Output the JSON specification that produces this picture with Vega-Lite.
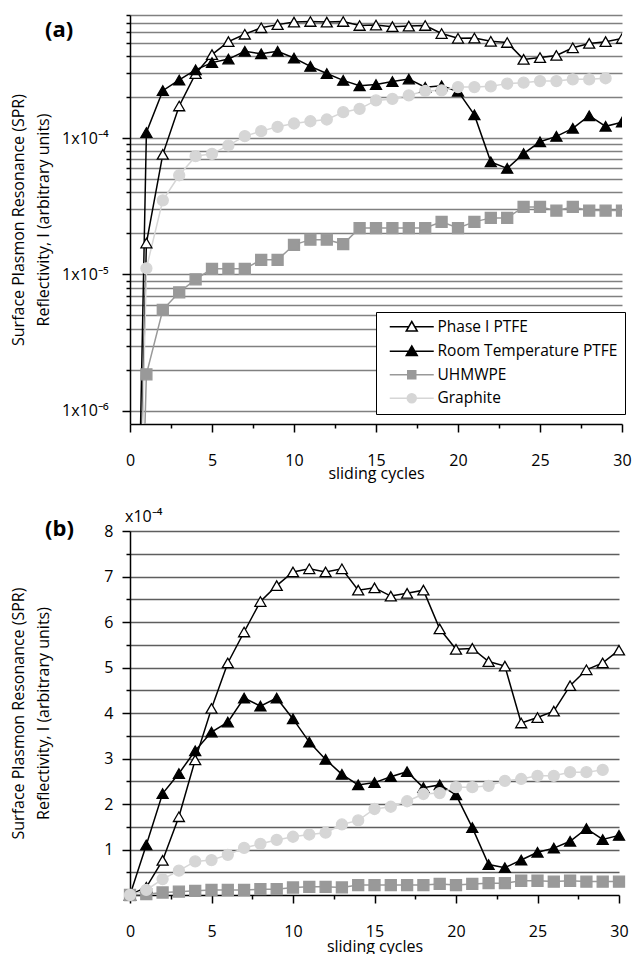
{
  "$schema": "https://vega.github.io/schema/vega-lite/v6.json",
  "padding": {"left": 9, "top": 7, "right": 5, "bottom": 0},
  "background": "white",
  "spacing": 28,
  "config": {
    "font": "Open Sans",
    "view": {"stroke": null},
    "axis": {"labelFont": "Open Sans", "titleFont": "Open Sans", "labelColor": "black", "titleColor": "black", "labelFontSize": 16, "titleFontSize": 16, "titleFontWeight": "normal", "domainColor": "black", "tickColor": "black", "domainWidth": 1.5, "tickWidth": 1.5, "labelOverlap": false, "labelFlush": false}
  },
  "resolve": {
    "scale": {"fill": "independent", "stroke": "independent", "shape": "independent", "size": "independent"},
    "legend": {"fill": "independent", "stroke": "independent", "shape": "independent", "size": "independent"}
  },
  "datasets": {
    "spr": [
      {"series": "Phase I PTFE", "cycle": 0, "I": 0.000001},
      {"series": "Phase I PTFE", "cycle": 1, "I": 0.17},
      {"series": "Phase I PTFE", "cycle": 2, "I": 0.76},
      {"series": "Phase I PTFE", "cycle": 3, "I": 1.72},
      {"series": "Phase I PTFE", "cycle": 4, "I": 2.97},
      {"series": "Phase I PTFE", "cycle": 5, "I": 4.1},
      {"series": "Phase I PTFE", "cycle": 6, "I": 5.1},
      {"series": "Phase I PTFE", "cycle": 7, "I": 5.78},
      {"series": "Phase I PTFE", "cycle": 8, "I": 6.45},
      {"series": "Phase I PTFE", "cycle": 9, "I": 6.8},
      {"series": "Phase I PTFE", "cycle": 10, "I": 7.1},
      {"series": "Phase I PTFE", "cycle": 11, "I": 7.17},
      {"series": "Phase I PTFE", "cycle": 12, "I": 7.1},
      {"series": "Phase I PTFE", "cycle": 13, "I": 7.17},
      {"series": "Phase I PTFE", "cycle": 14, "I": 6.7},
      {"series": "Phase I PTFE", "cycle": 15, "I": 6.75},
      {"series": "Phase I PTFE", "cycle": 16, "I": 6.57},
      {"series": "Phase I PTFE", "cycle": 17, "I": 6.63},
      {"series": "Phase I PTFE", "cycle": 18, "I": 6.7},
      {"series": "Phase I PTFE", "cycle": 19, "I": 5.85},
      {"series": "Phase I PTFE", "cycle": 20, "I": 5.4},
      {"series": "Phase I PTFE", "cycle": 21, "I": 5.42},
      {"series": "Phase I PTFE", "cycle": 22, "I": 5.13},
      {"series": "Phase I PTFE", "cycle": 23, "I": 5.03},
      {"series": "Phase I PTFE", "cycle": 24, "I": 3.78},
      {"series": "Phase I PTFE", "cycle": 25, "I": 3.9},
      {"series": "Phase I PTFE", "cycle": 26, "I": 4.04},
      {"series": "Phase I PTFE", "cycle": 27, "I": 4.6},
      {"series": "Phase I PTFE", "cycle": 28, "I": 4.95},
      {"series": "Phase I PTFE", "cycle": 29, "I": 5.1},
      {"series": "Phase I PTFE", "cycle": 30, "I": 5.38},
      {"series": "Room Temperature PTFE", "cycle": 0, "I": 0.000001},
      {"series": "Room Temperature PTFE", "cycle": 1, "I": 1.1},
      {"series": "Room Temperature PTFE", "cycle": 2, "I": 2.23},
      {"series": "Room Temperature PTFE", "cycle": 3, "I": 2.67},
      {"series": "Room Temperature PTFE", "cycle": 4, "I": 3.17},
      {"series": "Room Temperature PTFE", "cycle": 5, "I": 3.58},
      {"series": "Room Temperature PTFE", "cycle": 6, "I": 3.8},
      {"series": "Room Temperature PTFE", "cycle": 7, "I": 4.33},
      {"series": "Room Temperature PTFE", "cycle": 8, "I": 4.15},
      {"series": "Room Temperature PTFE", "cycle": 9, "I": 4.33},
      {"series": "Room Temperature PTFE", "cycle": 10, "I": 3.87},
      {"series": "Room Temperature PTFE", "cycle": 11, "I": 3.36},
      {"series": "Room Temperature PTFE", "cycle": 12, "I": 2.98},
      {"series": "Room Temperature PTFE", "cycle": 13, "I": 2.65},
      {"series": "Room Temperature PTFE", "cycle": 14, "I": 2.42},
      {"series": "Room Temperature PTFE", "cycle": 15, "I": 2.47},
      {"series": "Room Temperature PTFE", "cycle": 16, "I": 2.6},
      {"series": "Room Temperature PTFE", "cycle": 17, "I": 2.71},
      {"series": "Room Temperature PTFE", "cycle": 18, "I": 2.36},
      {"series": "Room Temperature PTFE", "cycle": 19, "I": 2.42},
      {"series": "Room Temperature PTFE", "cycle": 20, "I": 2.2},
      {"series": "Room Temperature PTFE", "cycle": 21, "I": 1.48},
      {"series": "Room Temperature PTFE", "cycle": 22, "I": 0.67},
      {"series": "Room Temperature PTFE", "cycle": 23, "I": 0.6},
      {"series": "Room Temperature PTFE", "cycle": 24, "I": 0.77},
      {"series": "Room Temperature PTFE", "cycle": 25, "I": 0.94},
      {"series": "Room Temperature PTFE", "cycle": 26, "I": 1.03},
      {"series": "Room Temperature PTFE", "cycle": 27, "I": 1.18},
      {"series": "Room Temperature PTFE", "cycle": 28, "I": 1.46},
      {"series": "Room Temperature PTFE", "cycle": 29, "I": 1.22},
      {"series": "Room Temperature PTFE", "cycle": 30, "I": 1.31},
      {"series": "UHMWPE", "cycle": 0, "I": 0.000001},
      {"series": "UHMWPE", "cycle": 1, "I": 0.0185},
      {"series": "UHMWPE", "cycle": 2, "I": 0.055},
      {"series": "UHMWPE", "cycle": 3, "I": 0.074},
      {"series": "UHMWPE", "cycle": 4, "I": 0.092},
      {"series": "UHMWPE", "cycle": 5, "I": 0.11},
      {"series": "UHMWPE", "cycle": 6, "I": 0.11},
      {"series": "UHMWPE", "cycle": 7, "I": 0.11},
      {"series": "UHMWPE", "cycle": 8, "I": 0.128},
      {"series": "UHMWPE", "cycle": 9, "I": 0.128},
      {"series": "UHMWPE", "cycle": 10, "I": 0.165},
      {"series": "UHMWPE", "cycle": 11, "I": 0.18},
      {"series": "UHMWPE", "cycle": 12, "I": 0.18},
      {"series": "UHMWPE", "cycle": 13, "I": 0.167},
      {"series": "UHMWPE", "cycle": 14, "I": 0.219},
      {"series": "UHMWPE", "cycle": 15, "I": 0.219},
      {"series": "UHMWPE", "cycle": 16, "I": 0.219},
      {"series": "UHMWPE", "cycle": 17, "I": 0.219},
      {"series": "UHMWPE", "cycle": 18, "I": 0.219},
      {"series": "UHMWPE", "cycle": 19, "I": 0.243},
      {"series": "UHMWPE", "cycle": 20, "I": 0.219},
      {"series": "UHMWPE", "cycle": 21, "I": 0.243},
      {"series": "UHMWPE", "cycle": 22, "I": 0.26},
      {"series": "UHMWPE", "cycle": 23, "I": 0.26},
      {"series": "UHMWPE", "cycle": 24, "I": 0.313},
      {"series": "UHMWPE", "cycle": 25, "I": 0.313},
      {"series": "UHMWPE", "cycle": 26, "I": 0.294},
      {"series": "UHMWPE", "cycle": 27, "I": 0.313},
      {"series": "UHMWPE", "cycle": 28, "I": 0.294},
      {"series": "UHMWPE", "cycle": 29, "I": 0.294},
      {"series": "UHMWPE", "cycle": 30, "I": 0.294},
      {"series": "Graphite", "cycle": 0, "I": 0.000001},
      {"series": "Graphite", "cycle": 1, "I": 0.111},
      {"series": "Graphite", "cycle": 2, "I": 0.35},
      {"series": "Graphite", "cycle": 3, "I": 0.534},
      {"series": "Graphite", "cycle": 4, "I": 0.737},
      {"series": "Graphite", "cycle": 5, "I": 0.767},
      {"series": "Graphite", "cycle": 6, "I": 0.884},
      {"series": "Graphite", "cycle": 7, "I": 1.035},
      {"series": "Graphite", "cycle": 8, "I": 1.125},
      {"series": "Graphite", "cycle": 9, "I": 1.21},
      {"series": "Graphite", "cycle": 10, "I": 1.28},
      {"series": "Graphite", "cycle": 11, "I": 1.33},
      {"series": "Graphite", "cycle": 12, "I": 1.37},
      {"series": "Graphite", "cycle": 13, "I": 1.55},
      {"series": "Graphite", "cycle": 14, "I": 1.64},
      {"series": "Graphite", "cycle": 15, "I": 1.89},
      {"series": "Graphite", "cycle": 16, "I": 1.94},
      {"series": "Graphite", "cycle": 17, "I": 2.06},
      {"series": "Graphite", "cycle": 18, "I": 2.22},
      {"series": "Graphite", "cycle": 19, "I": 2.24},
      {"series": "Graphite", "cycle": 20, "I": 2.37},
      {"series": "Graphite", "cycle": 21, "I": 2.37},
      {"series": "Graphite", "cycle": 22, "I": 2.4},
      {"series": "Graphite", "cycle": 23, "I": 2.51},
      {"series": "Graphite", "cycle": 24, "I": 2.55},
      {"series": "Graphite", "cycle": 25, "I": 2.62},
      {"series": "Graphite", "cycle": 26, "I": 2.62},
      {"series": "Graphite", "cycle": 27, "I": 2.7},
      {"series": "Graphite", "cycle": 28, "I": 2.7},
      {"series": "Graphite", "cycle": 29, "I": 2.75}
    ]
  },
  "vconcat": [
    {
      "width": 492,
      "height": 409,
      "data": {"name": "spr"},
      "resolve": {
        "scale": {"fill": "independent", "stroke": "independent", "shape": "independent", "size": "independent"},
        "legend": {"fill": "independent", "stroke": "independent", "shape": "independent", "size": "independent"}
      },
      "encoding": {
        "x": {"field": "cycle", "type": "quantitative", "scale": {"domain": [0, 30]},
          "axis": {"title": "sliding cycles", "values": [0, 2.5, 5, 7.5, 10, 12.5, 15, 17.5, 20, 22.5, 25, 27.5, 30], "labelExpr": "datum.value % 5 === 0 ? datum.label : ''", "grid": false, "tickSize": {"condition": {"test": "datum.value % 5 === 0", "value": 8}, "value": 4}, "labelPadding": 20, "titlePadding": -3}},
        "y": {"field": "I", "type": "quantitative", "scale": {"type": "log", "domain": [0.008, 8]},
          "axis": {"title": ["Surface Plasmon Resonance (SPR)", "Reflectivity, I (arbitrary units)"], "titleLineHeight": 25, "titleX": -112, "titleBaseline": "middle",
            "values": [0.01, 0.02, 0.03, 0.04, 0.05, 0.06, 0.07, 0.08, 0.09, 0.1, 0.2, 0.3, 0.4, 0.5, 0.6, 0.7, 0.8, 0.9, 1, 2, 3, 4, 5, 6, 7, 8],
            "labelExpr": "abs(datum.value-1)<1e-9 ? '1x10⁻⁴' : abs(datum.value-0.1)<1e-9 ? '1x10⁻⁵' : abs(datum.value-0.01)<1e-9 ? '1x10⁻⁶' : ''",
            "grid": true, "gridColor": "#808080", "gridWidth": 1.5,
            "tickSize": {"condition": {"test": "abs(datum.value-1)<1e-9 || abs(datum.value-0.1)<1e-9 || abs(datum.value-0.01)<1e-9", "value": 8}, "value": 4},
            "labelPadding": 14}}
      },
      "layer": [
        {
          "mark": {"type": "line", "strokeWidth": 1.5, "clip": true},
          "encoding": {
            "stroke": {"field": "series", "type": "nominal", "scale": {"domain": ["Phase I PTFE", "Room Temperature PTFE", "UHMWPE", "Graphite"], "range": ["black", "black", "#999999", "#d6d6d6"]}, "legend": null}
          }
        },
        {
          "mark": {"type": "point", "filled": true, "opacity": 1, "strokeWidth": 1.3, "clip": true},
          "encoding": {
            "stroke": {"field": "series", "type": "nominal", "scale": {"domain": ["Phase I PTFE", "Room Temperature PTFE", "UHMWPE", "Graphite"], "range": ["black", "black", "#999999", "#d6d6d6"]}, "legend": null},
            "fill": {"field": "series", "type": "nominal", "scale": {"domain": ["Phase I PTFE", "Room Temperature PTFE", "UHMWPE", "Graphite"], "range": ["white", "black", "#999999", "#d6d6d6"]}, "legend": null},
            "shape": {"field": "series", "type": "nominal", "scale": {"domain": ["Phase I PTFE", "Room Temperature PTFE", "UHMWPE", "Graphite"], "range": ["triangle-up", "triangle-up", "square", "circle"]}, "legend": null},
            "size": {"field": "series", "type": "nominal", "scale": {"domain": ["Phase I PTFE", "Room Temperature PTFE", "UHMWPE", "Graphite"], "range": [121, 121, 64, 100]}, "legend": null}
          }
        },
        {
          "mark": {"type": "point", "filled": true, "opacity": 0, "strokeWidth": 1.5, "clip": true},
          "encoding": {
            "stroke": {"field": "series", "type": "nominal", "scale": {"domain": ["Phase I PTFE", "Room Temperature PTFE", "UHMWPE", "Graphite"], "range": ["black", "black", "#999999", "#d6d6d6"]},
              "legend": {"orient": "none", "legendX": 246, "legendY": 297, "title": null, "strokeColor": "black", "fillColor": "white", "padding": 7, "labelFont": "Open Sans", "labelFontSize": 15.5, "labelColor": "black", "labelLimit": 0, "symbolSize": 100, "symbolStrokeWidth": 1.5, "symbolOpacity": 1, "rowPadding": 6.5, "symbolOffset": 21, "labelOffset": 18}},
            "fill": {"field": "series", "type": "nominal", "scale": {"domain": ["Phase I PTFE", "Room Temperature PTFE", "UHMWPE", "Graphite"], "range": ["white", "black", "#999999", "#d6d6d6"]},
              "legend": {"orient": "none", "legendX": 246, "legendY": 297, "title": null, "strokeColor": "black", "fillColor": "white", "padding": 7, "labelFont": "Open Sans", "labelFontSize": 15.5, "labelColor": "black", "labelLimit": 0, "symbolSize": 100, "symbolStrokeWidth": 1.5, "symbolOpacity": 1, "rowPadding": 6.5, "symbolOffset": 21, "labelOffset": 18}},
            "shape": {"field": "series", "type": "nominal", "scale": {"domain": ["Phase I PTFE", "Room Temperature PTFE", "UHMWPE", "Graphite"], "range": ["M-4.4,0H-0.62M0.62,0H4.4M0,-1.05L1.1,0.85L-1.1,0.85Z", "M-4.4,0H-0.62M0.62,0H4.4M0,-1.05L1.1,0.85L-1.1,0.85Z", "M-4.4,0H-0.8M0.8,0H4.4M-0.8,-0.8H0.8V0.8H-0.8Z", "M-4.4,0H-0.9M0.9,0H4.4M-0.9,0A0.9,0.9,0,1,0,0.9,0A0.9,0.9,0,1,0,-0.9,0Z"]},
              "legend": {"orient": "none", "legendX": 246, "legendY": 297, "title": null, "strokeColor": "black", "fillColor": "white", "padding": 7, "labelFont": "Open Sans", "labelFontSize": 15.5, "labelColor": "black", "labelLimit": 0, "symbolSize": 100, "symbolStrokeWidth": 1.5, "symbolOpacity": 1, "rowPadding": 6.5, "symbolOffset": 21, "labelOffset": 18}}
          }
        },
        {
          "transform": [{"filter": "datum.series === 'Phase I PTFE' && datum.cycle === 0"}],
          "mark": {"type": "text", "align": "left", "baseline": "middle", "fontSize": 22, "fontWeight": "bold", "font": "Open Sans", "fill": "black", "opacity": 1, "dx": -85, "dy": 15},
          "encoding": {"x": {"datum": 0, "type": "quantitative"}, "y": {"datum": 8, "type": "quantitative"}, "text": {"value": "(a)"}}
        }
      ]
    },
    {
      "width": 489,
      "height": 364,
      "data": {"name": "spr"},
      "encoding": {
        "x": {"field": "cycle", "type": "quantitative", "scale": {"domain": [0, 30]},
          "axis": {"title": "sliding cycles", "values": [0, 2.5, 5, 7.5, 10, 12.5, 15, 17.5, 20, 22.5, 25, 27.5, 30], "labelExpr": "datum.value % 5 === 0 ? datum.label : ''", "grid": false, "tickSize": {"condition": {"test": "datum.value % 5 === 0", "value": 8}, "value": 4}, "labelPadding": 20, "titlePadding": -1}},
        "y": {"field": "I", "type": "quantitative", "scale": {"domain": [0, 8]},
          "axis": {"title": ["Surface Plasmon Resonance (SPR)", "Reflectivity, I (arbitrary units)"], "titleLineHeight": 25, "titleX": -112, "titleBaseline": "middle",
            "values": [0.5, 1, 1.5, 2, 2.5, 3, 3.5, 4, 4.5, 5, 5.5, 6, 6.5, 7, 7.5, 8],
            "labelExpr": "datum.value % 1 === 0 ? format(datum.value, 'd') : ''",
            "grid": true, "gridColor": "#5e5e5e", "gridWidth": 1.3,
            "tickSize": {"condition": {"test": "datum.value % 1 === 0", "value": 8}, "value": 4},
            "labelPadding": 9}}
      },
      "layer": [
        {
          "mark": {"type": "line", "strokeWidth": 1.5},
          "encoding": {
            "stroke": {"field": "series", "type": "nominal", "scale": {"domain": ["Phase I PTFE", "Room Temperature PTFE", "UHMWPE", "Graphite"], "range": ["black", "black", "#999999", "#d6d6d6"]}, "legend": null}
          }
        },
        {
          "mark": {"type": "point", "filled": true, "opacity": 1, "strokeWidth": 1.3},
          "encoding": {
            "stroke": {"field": "series", "type": "nominal", "scale": {"domain": ["Phase I PTFE", "Room Temperature PTFE", "UHMWPE", "Graphite"], "range": ["black", "black", "#999999", "#d6d6d6"]}, "legend": null},
            "fill": {"field": "series", "type": "nominal", "scale": {"domain": ["Phase I PTFE", "Room Temperature PTFE", "UHMWPE", "Graphite"], "range": ["white", "black", "#999999", "#d6d6d6"]}, "legend": null},
            "shape": {"field": "series", "type": "nominal", "scale": {"domain": ["Phase I PTFE", "Room Temperature PTFE", "UHMWPE", "Graphite"], "range": ["triangle-up", "triangle-up", "square", "circle"]}, "legend": null},
            "size": {"field": "series", "type": "nominal", "scale": {"domain": ["Phase I PTFE", "Room Temperature PTFE", "UHMWPE", "Graphite"], "range": [121, 121, 64, 100]}, "legend": null}
          }
        },
        {
          "transform": [{"filter": "datum.series === 'Phase I PTFE' && datum.cycle === 0"}],
          "mark": {"type": "text", "align": "left", "baseline": "middle", "fontSize": 22, "fontWeight": "bold", "font": "Open Sans", "fill": "black", "opacity": 1, "dx": -85, "dy": -2},
          "encoding": {"x": {"datum": 0, "type": "quantitative"}, "y": {"datum": 8, "type": "quantitative"}, "text": {"value": "(b)"}}
        },
        {
          "transform": [{"filter": "datum.series === 'Phase I PTFE' && datum.cycle === 0"}],
          "mark": {"type": "text", "align": "left", "baseline": "middle", "fontSize": 16, "font": "Open Sans", "fill": "black", "opacity": 1, "dx": -5, "dy": -14},
          "encoding": {"x": {"datum": 0, "type": "quantitative"}, "y": {"datum": 8, "type": "quantitative"}, "text": {"value": "x10⁻⁴"}}
        }
      ]
    }
  ]
}
